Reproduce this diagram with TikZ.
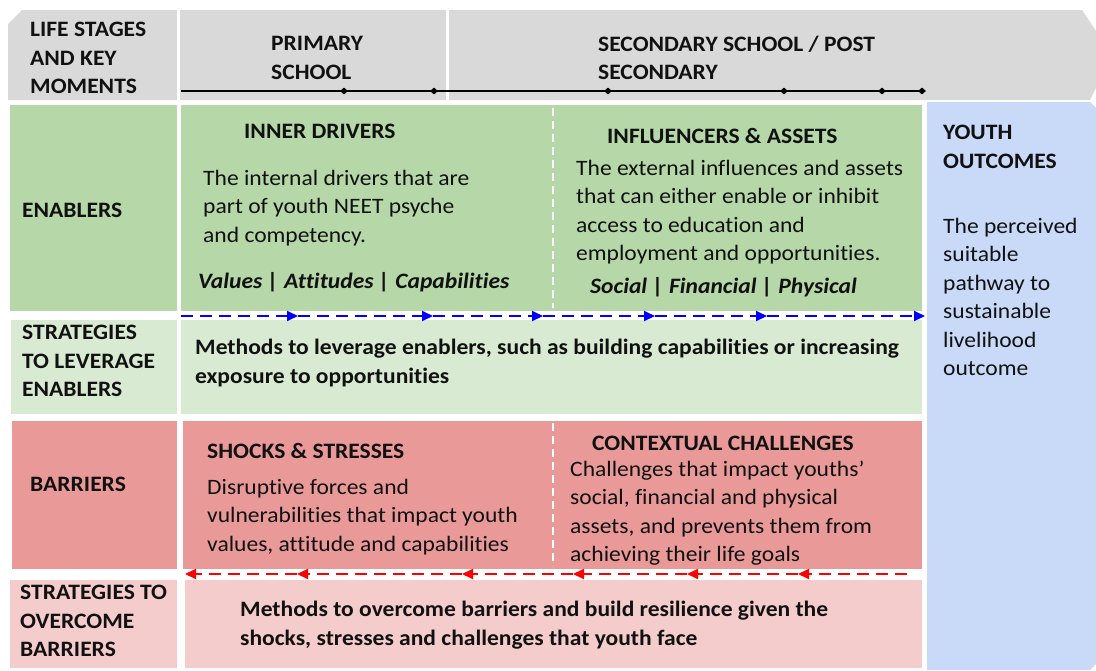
\documentclass[tikz,border=0pt]{standalone}
\usepackage{fontspec}
\setmainfont{Carlito}[FakeStretch=1.07,RawFeature={-liga;-clig;-calt;-dlig}]
\usetikzlibrary{arrows.meta,shapes.geometric}
\definecolor{hdrgray}{HTML}{D9D9D9}
\definecolor{engreen}{HTML}{B6D7A8}
\definecolor{ltgreen}{HTML}{D9EAD3}
\definecolor{barred}{HTML}{EA9999}
\definecolor{ltpink}{HTML}{F4CCCC}
\definecolor{outblue}{HTML}{C9DAF8}
\definecolor{txtcol}{HTML}{111111}
\definecolor{arrblue}{HTML}{0000FF}
\definecolor{arrred}{HTML}{FF0000}
\begin{document}
\begin{tikzpicture}[x=1pt,y=-1pt,
  txt/.style={inner sep=0pt, anchor=west, align=left, text=txtcol, font=\fontsize{22}{28.5}\selectfont},
  btxt/.style={txt, font=\fontsize{22}{28.5}\selectfont\bfseries},
  bitxt/.style={txt, font=\fontsize{22}{28.5}\selectfont\bfseries\itshape},
  tick/.style={diamond, fill=black, inner sep=0pt, minimum width=8pt, minimum height=7pt},
  divider/.style={white, line width=2pt, dash pattern=on 8pt off 5pt},
  blueflow/.style={arrblue, line width=2pt, dash pattern=on 12pt off 7pt, -{Triangle[length=11pt,width=10pt]}},
  redflow/.style={arrred, line width=2pt, dash pattern=on 12pt off 7pt, -{Triangle[length=11pt,width=10pt]}},
  sep/.style={white, line width=3pt}]
\useasboundingbox (0,0) rectangle (1096,670);
\clip (0,0) rectangle (1096,670);

% header band
\fill[hdrgray] (8,24) -- (22,10) -- (1082,10) -- (1112,55) -- (1090,100) -- (8,100) -- cycle;
\draw[sep] (178,10) -- (178,100);
\draw[sep] (447,10) -- (447,100);

% youth outcomes column
\fill[outblue] (927,102) -- (1090,102) -- (1096,108) -- (1096,664) -- (1090,670) -- (927,670) -- cycle;

% rows
\fill[engreen] (10,105) rectangle (177,311);
\fill[engreen] (181,105) rectangle (922,311);
\fill[ltgreen] (11,320) rectangle (177,414);
\fill[ltgreen] (181,320) rectangle (922,414);
\fill[barred] (12,421) rectangle (177,569);
\fill[barred] (183,421) rectangle (922,569);
\fill[ltpink] (10,580) rectangle (177,668);
\fill[ltpink] (185,580) rectangle (922,668);

% white dashed dividers
\draw[divider] (553,108) -- (553,308);
\draw[divider] (553,423) -- (553,566);

% timeline
\coordinate (t0) at (181,91);
\node[tick] (t1) at (344,91) {};
\node[tick] (t2) at (434,91) {};
\node[tick] (t3) at (608,91) {};
\node[tick] (t4) at (784,91) {};
\node[tick] (t5) at (882,91) {};
\node[tick] (t6) at (922,91) {};
\draw[line width=1.6pt] (t0) -- (t6.center);

% blue flow
\coordinate (b0) at (181,316);
\coordinate (b1) at (298,316);
\coordinate (b2) at (433,316);
\coordinate (b3) at (543,316);
\coordinate (b4) at (655,316);
\coordinate (b5) at (767,316);
\coordinate (b6) at (925,316);
\draw[blueflow] (b0) -- (b1);
\draw[blueflow] (b1) -- (b2);
\draw[blueflow] (b2) -- (b3);
\draw[blueflow] (b3) -- (b4);
\draw[blueflow] (b4) -- (b5);
\draw[blueflow] (b5) -- (b6);

% red flow
\coordinate (r0) at (907,574);
\coordinate (r1) at (798,574);
\coordinate (r2) at (687,574);
\coordinate (r3) at (573,574);
\coordinate (r4) at (462,574);
\coordinate (r5) at (297,574);
\coordinate (r6) at (185,574);
\draw[redflow] (r0) -- (r1);
\draw[redflow] (r1) -- (r2);
\draw[redflow] (r2) -- (r3);
\draw[redflow] (r3) -- (r4);
\draw[redflow] (r4) -- (r5);
\draw[redflow] (r5) -- (r6);

% header texts
\node[btxt] (lifestages) at (30,58) {LIFE STAGES\\AND KEY\\MOMENTS};
\node[btxt] (primary) at (271,58) {PRIMARY\\SCHOOL};
\node[btxt] (secondary) at (598,58) {SECONDARY SCHOOL / POST\\SECONDARY};

% enablers
\node[btxt] (enablers) at (22,210) {ENABLERS};
\node[btxt] (inner) at (244,131) {INNER DRIVERS};
\node[txt] (innerbody) at (203,208) {The internal drivers that are\\part of youth NEET psyche\\and competency.};
\node[bitxt] (innerkeys) at (198,282) {Values | Attitudes | Capabilities};
\node[btxt] (influencers) at (607,136) {INFLUENCERS \& ASSETS};
\node[txt] (inflbody) at (576,212) {The external influences and assets\\that can either enable or inhibit\\access to education and\\employment and opportunities.};
\node[bitxt] (inflkeys) at (590,287) {Social | Financial | Physical};

% youth outcomes
\node[btxt] (youth) at (943,147) {YOUTH\\OUTCOMES};
\node[txt] (youthbody) at (943,297) {The perceived\\suitable\\pathway to\\sustainable\\livelihood\\outcome};

% strategies to leverage
\node[btxt] (stratlev) at (22,361) {STRATEGIES\\TO LEVERAGE\\ENABLERS};
\node[btxt] (stratlevbody) at (195,363) {Methods to leverage enablers, such as building capabilities or increasing\\exposure to opportunities};

% barriers
\node[btxt] (barriers) at (30,484) {BARRIERS};
\node[btxt] (shocks) at (207,451) {SHOCKS \& STRESSES};
\node[txt] (shocksbody) at (207,517) {Disruptive forces and\\vulnerabilities that impact youth\\values, attitude and capabilities};
\node[btxt] (context) at (592,443) {CONTEXTUAL CHALLENGES};
\node[txt] (contextbody) at (570,513) {Challenges that impact youths’\\social, financial and physical\\assets, and prevents them from\\achieving their life goals};

% strategies to overcome
\node[btxt] (stratover) at (20,621) {STRATEGIES TO\\OVERCOME\\BARRIERS};
\node[btxt] (stratoverbody) at (240,625) {Methods to overcome barriers and build resilience given the\\shocks, stresses and challenges that youth face};
\end{tikzpicture}
\end{document}
